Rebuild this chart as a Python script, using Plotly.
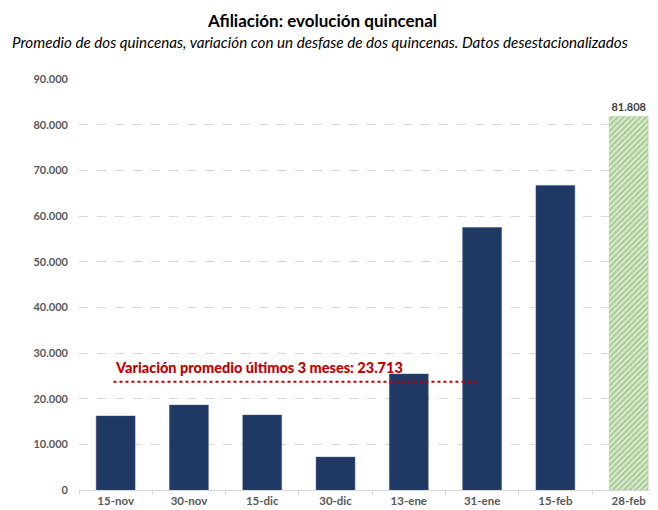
import plotly.graph_objects as go

categories = ["15-nov", "30-nov", "15-dic", "30-dic", "13-ene", "31-ene", "15-feb", "28-feb"]
values = [16200, 18600, 16400, 7200, 25400, 57500, 66700, 81808]
avg_value = 23713
avg_label = "Variación promedio últimos 3 meses: 23.713"
last_label = "81.808"
title_text = "Afiliación: evolución quincenal"
subtitle_text = "Promedio de dos quincenas, variación con un desfase de dos quincenas. Datos desestacionalizados"

FONT = "Lato"
navy = "#203864"
green = "#6aa84f"

# page has an 8px body margin; figure occupies page pixels 8..658 x 8..510
OFF = 8
W, H = 650, 502
ML, MR, MT, MB = 71, 0, 71, 20
PW, PH = W - ML - MR, H - MT - MB


def px_x(x):
    return (x - OFF - ML) / PW


def px_y(y):
    return (H - MB - (y - OFF)) / PH


fig = go.Figure()
fig.add_trace(go.Bar(
    x=categories[:-1], y=values[:-1],
    marker=dict(color=navy, line=dict(color="#3a5180", width=0.5)),
    width=0.53,
))
fig.add_trace(go.Bar(
    x=categories[-1:], y=values[-1:],
    marker=dict(color="#e6f1dd", line=dict(color="#a9d08e", width=0.5),
                pattern=dict(shape="/", fgcolor=green, bgcolor="#e6f1dd", size=4, solidity=0.6)),
    width=0.53, text=[last_label], textposition="outside",
    textfont=dict(family=FONT, size=11, color="#404040", weight="bold"),
    cliponaxis=False,
))

fig.add_shape(type="line", xref="x", yref="y", x0=-0.03, x1=4.93, y0=avg_value, y1=avg_value,
              line=dict(color="#C00000", width=2, dash="dot"))
fig.add_annotation(x=-0.03, y=avg_value, xref="x", yref="y", text=avg_label,
                   showarrow=False, xanchor="left", yanchor="bottom", yshift=4,
                   font=dict(family=FONT, size=14.5, color="#C00000", weight=900))
fig.add_annotation(x=px_x(322), y=px_y(20), xref="paper", yref="paper", xanchor="center", yanchor="middle",
                   text=title_text, showarrow=False,
                   font=dict(family=FONT, size=17, color="#000000", weight="bold"))
fig.add_annotation(x=px_x(320), y=px_y(42), xref="paper", yref="paper", xanchor="center", yanchor="middle",
                   text=subtitle_text, showarrow=False,
                   font=dict(family=FONT, size=15.2, color="#000000", style="italic"))

fig.update_layout(
    width=W, height=H,
    margin=dict(l=ML, r=MR, t=MT, b=MB),
    paper_bgcolor="white", plot_bgcolor="white",
    showlegend=False,
    separators=",.",
    font=dict(family=FONT, size=11, color="#595959"),
)

fig.update_yaxes(range=[0, 90000], dtick=10000, tickformat=",d",
                 showgrid=True, gridcolor="#d9d9d9", griddash="dash", gridwidth=1,
                 zeroline=False, showline=False, ticks="",
                 tickfont=dict(family=FONT, size=11, color="#595959", weight="bold"), ticklabelstandoff=10)
fig.update_xaxes(range=[-0.5, 7.4], showline=True, linecolor="#d9d9d9", linewidth=1,
                 ticks="outside", tickson="boundaries", ticklen=4, tickcolor="#d9d9d9",
                 tickfont=dict(family=FONT, size=11.5, color="#595959", weight="bold"), showgrid=False)

fig.write_html("out.html")
